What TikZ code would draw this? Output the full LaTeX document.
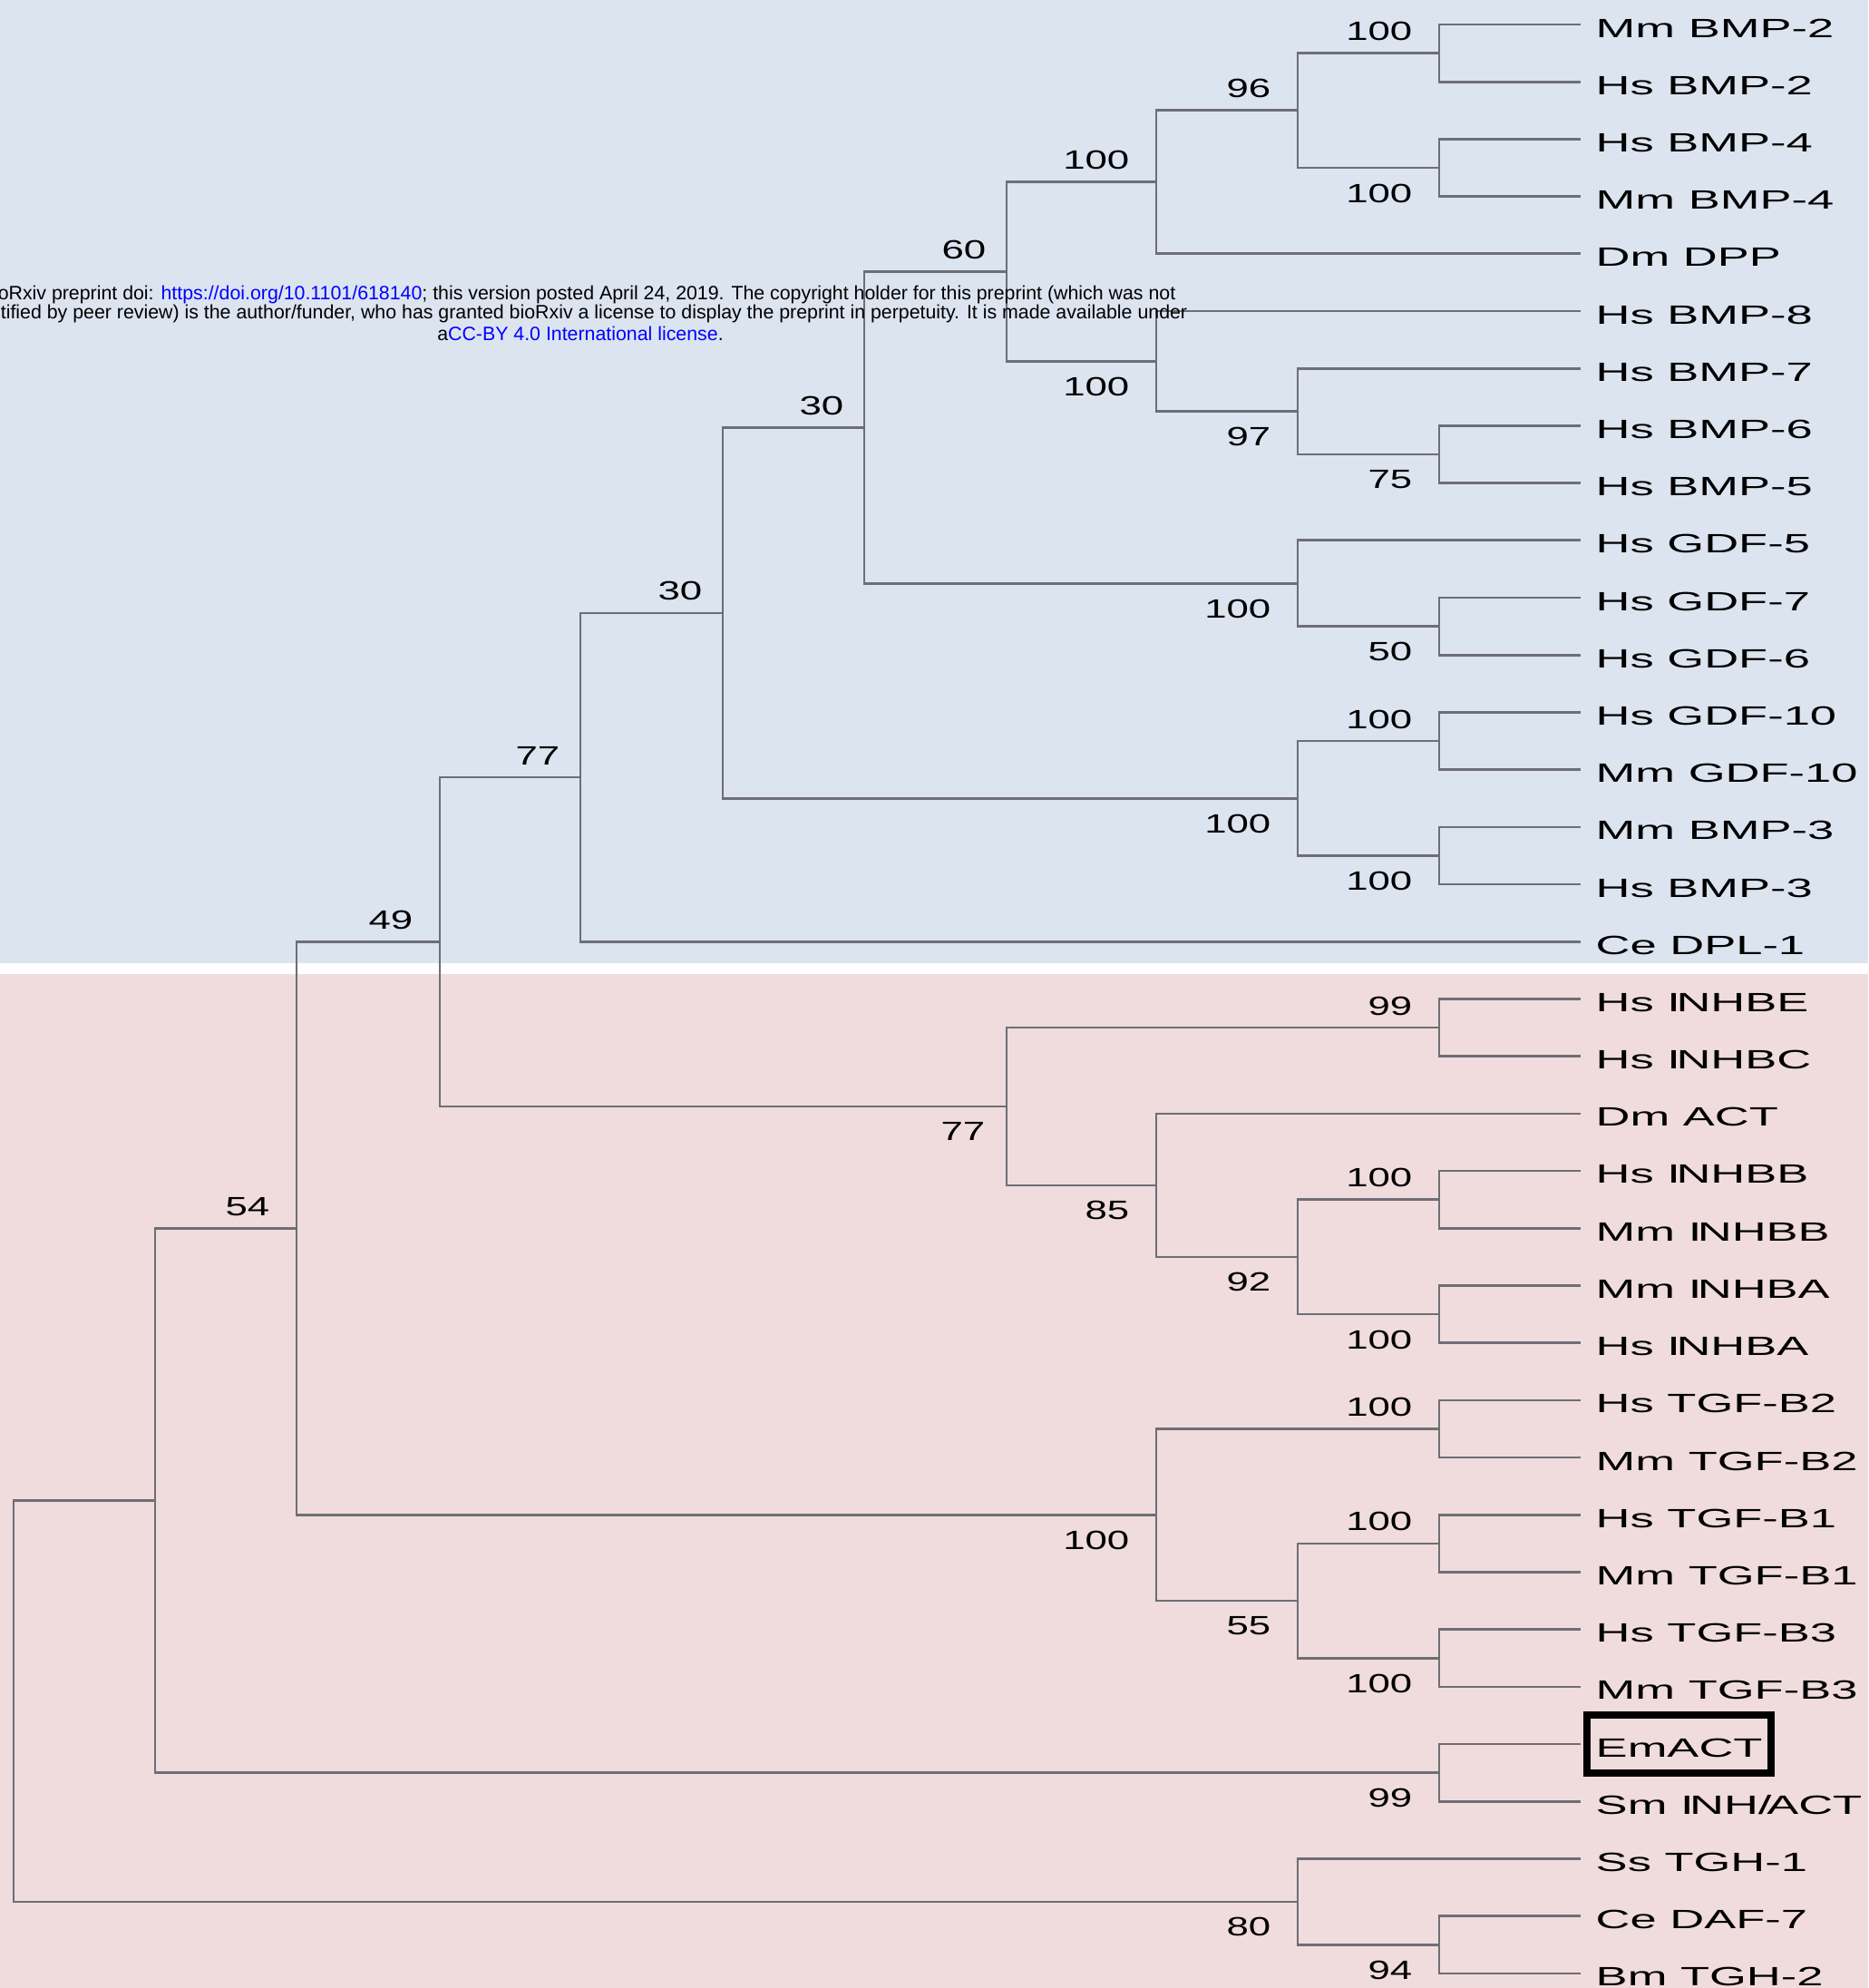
\documentclass[tikz,border=0pt]{standalone}
\usepackage{fontspec}
\setmainfont{Liberation Sans}
\newfontfamily\leaffont[FakeStretch=1.8]{Liberation Sans}
\newfontfamily\bootfont[FakeStretch=1.5]{Liberation Sans}
\usepackage{tikz}
\usetikzlibrary{positioning,fit}
\definecolor{TreeBlue} {HTML}{DCE4F0}
\definecolor{TreePink} {HTML}{F0DCDC}
\definecolor{TreeLine} {HTML}{6E6E76}
\definecolor{LinkBlue} {HTML}{0000FF}

\begin{document}
\begin{tikzpicture}[x=1cm,y=-0.632cm,
    branch/.style={draw=TreeLine,line width=0.75pt},
    leaf/.style={font=\leaffont\fontsize{8.3}{10}\selectfont,inner sep=0pt,yshift=-0.4mm},
    boot/.style={font=\bootfont\fontsize{8.3}{10}\selectfont,inner sep=0pt},
    hdr/.style={font=\fontsize{6.07}{7}\selectfont,inner sep=0pt}]
    % bands
    \fill[TreeBlue] (0,0.5728) rectangle (20.6,17.377);
    \fill[white]    (0,17.377) rectangle (20.6,17.566);
    \fill[TreePink] (0,17.566) rectangle (20.6,35.256);
    \useasboundingbox (0,0.5728) rectangle (20.6,35.256);

    % leaves
    \coordinate (t1) at (17.43,1);   \node[leaf,right=1.6mm of t1] (l1) {Mm BMP-2};
    \coordinate (t2) at (17.43,2);   \node[leaf,right=1.6mm of t2] (l2) {Hs BMP-2};
    \coordinate (t3) at (17.43,3);   \node[leaf,right=1.6mm of t3] (l3) {Hs BMP-4};
    \coordinate (t4) at (17.43,4);   \node[leaf,right=1.6mm of t4] (l4) {Mm BMP-4};
    \coordinate (t5) at (17.43,5);   \node[leaf,right=1.6mm of t5] (l5) {Dm DPP};
    \coordinate (t6) at (17.43,6);   \node[leaf,right=1.6mm of t6] (l6) {Hs BMP-8};
    \coordinate (t7) at (17.43,7);   \node[leaf,right=1.6mm of t7] (l7) {Hs BMP-7};
    \coordinate (t8) at (17.43,8);   \node[leaf,right=1.6mm of t8] (l8) {Hs BMP-6};
    \coordinate (t9) at (17.43,9);   \node[leaf,right=1.6mm of t9] (l9) {Hs BMP-5};
    \coordinate (t10) at (17.43,10); \node[leaf,right=1.6mm of t10] (l10) {Hs GDF-5};
    \coordinate (t11) at (17.43,11); \node[leaf,right=1.6mm of t11] (l11) {Hs GDF-7};
    \coordinate (t12) at (17.43,12); \node[leaf,right=1.6mm of t12] (l12) {Hs GDF-6};
    \coordinate (t13) at (17.43,13); \node[leaf,right=1.6mm of t13] (l13) {Hs GDF-10};
    \coordinate (t14) at (17.43,14); \node[leaf,right=1.6mm of t14] (l14) {Mm GDF-10};
    \coordinate (t15) at (17.43,15); \node[leaf,right=1.6mm of t15] (l15) {Mm BMP-3};
    \coordinate (t16) at (17.43,16); \node[leaf,right=1.6mm of t16] (l16) {Hs BMP-3};
    \coordinate (t17) at (17.43,17); \node[leaf,right=1.6mm of t17] (l17) {Ce DPL-1};
    \coordinate (t18) at (17.43,18); \node[leaf,right=1.6mm of t18] (l18) {Hs I\kern-1.3pt NHBE};
    \coordinate (t19) at (17.43,19); \node[leaf,right=1.6mm of t19] (l19) {Hs I\kern-1.3pt NHBC};
    \coordinate (t20) at (17.43,20); \node[leaf,right=1.6mm of t20] (l20) {Dm ACT};
    \coordinate (t21) at (17.43,21); \node[leaf,right=1.6mm of t21] (l21) {Hs I\kern-1.3pt NHBB};
    \coordinate (t22) at (17.43,22); \node[leaf,right=1.6mm of t22] (l22) {Mm I\kern-1.3pt NHBB};
    \coordinate (t23) at (17.43,23); \node[leaf,right=1.6mm of t23] (l23) {Mm I\kern-1.3pt NHBA};
    \coordinate (t24) at (17.43,24); \node[leaf,right=1.6mm of t24] (l24) {Hs I\kern-1.3pt NHBA};
    \coordinate (t25) at (17.43,25); \node[leaf,right=1.6mm of t25] (l25) {Hs TGF-B2};
    \coordinate (t26) at (17.43,26); \node[leaf,right=1.6mm of t26] (l26) {Mm TGF-B2};
    \coordinate (t27) at (17.43,27); \node[leaf,right=1.6mm of t27] (l27) {Hs TGF-B1};
    \coordinate (t28) at (17.43,28); \node[leaf,right=1.6mm of t28] (l28) {Mm TGF-B1};
    \coordinate (t29) at (17.43,29); \node[leaf,right=1.6mm of t29] (l29) {Hs TGF-B3};
    \coordinate (t30) at (17.43,30); \node[leaf,right=1.6mm of t30] (l30) {Mm TGF-B3};
    \coordinate (t31) at (17.43,31); \node[leaf,right=1.6mm of t31] (l31) {EmACT};
    \coordinate (t32) at (17.43,32); \node[leaf,right=1.6mm of t32] (l32) {Sm I\kern-1.3pt NH/\kern-1.5pt ACT};
    \coordinate (t33) at (17.43,33); \node[leaf,right=1.6mm of t33] (l33) {Ss TGH-1};
    \coordinate (t34) at (17.43,34); \node[leaf,right=1.6mm of t34] (l34) {Ce DAF-7};
    \coordinate (t35) at (17.43,35); \node[leaf,right=1.6mm of t35] (l35) {Bm TGH-2};
    \node[draw=black,line width=2.2pt,fit=(l31),inner xsep=0.9mm,inner ysep=2.1mm,yshift=0.4mm] (emact) {};

    % BMP / GDF part
    \coordinate (p1) at (15.87,1.5);
    \coordinate (p2) at (15.87,3.5);
    \coordinate (n96) at (14.31,2.5);
    \coordinate (n100a) at (12.75,3.75);
    \coordinate (p3) at (15.87,8.5);
    \coordinate (n97) at (14.31,7.75);
    \coordinate (n100b) at (12.75,6.875);
    \coordinate (n60) at (11.10,5.3125);
    \coordinate (p4) at (15.87,11.5);
    \coordinate (ngdf) at (14.31,10.75);
    \coordinate (n30a) at (9.53,8.031);
    \coordinate (p5) at (15.87,13.5);
    \coordinate (p6) at (15.87,15.5);
    \coordinate (nb3) at (14.31,14.5);
    \coordinate (n30b) at (7.97,11.266);
    \coordinate (n77a) at (6.40,14.133);
    % activin / TGF part
    \coordinate (p7) at (15.87,18.5);
    \coordinate (p8) at (15.87,21.5);
    \coordinate (p9) at (15.87,23.5);
    \coordinate (n92) at (14.31,22.5);
    \coordinate (n85) at (12.75,21.25);
    \coordinate (n77b) at (11.10,19.875);
    \coordinate (n49) at (4.85,17.004);
    \coordinate (p10) at (15.87,25.5);
    \coordinate (p11) at (15.87,27.5);
    \coordinate (p12) at (15.87,29.5);
    \coordinate (n55) at (14.31,28.5);
    \coordinate (ntgf) at (12.75,27);
    \coordinate (n54) at (3.27,22.002);
    \coordinate (p13) at (15.87,31.5);
    \coordinate (n1) at (1.71,26.751);
    \coordinate (p14) at (15.87,34.5);
    \coordinate (n80) at (14.31,33.75);
    \coordinate (root) at (0.15,30.25);

    \draw[branch] (t1) -| (p1) |- (t2);
    \draw[branch] (t3) -| (p2) |- (t4);
    \draw[branch] (p1) -| (n96) |- (p2);
    \draw[branch] (n96) -| (n100a) |- (t5);
    \draw[branch] (t8) -| (p3) |- (t9);
    \draw[branch] (t7) -| (n97) |- (p3);
    \draw[branch] (t6) -| (n100b) |- (n97);
    \draw[branch] (n100a) -| (n60) |- (n100b);
    \draw[branch] (t11) -| (p4) |- (t12);
    \draw[branch] (t10) -| (ngdf) |- (p4);
    \draw[branch] (n60) -| (n30a) |- (ngdf);
    \draw[branch] (t13) -| (p5) |- (t14);
    \draw[branch] (t15) -| (p6) |- (t16);
    \draw[branch] (p5) -| (nb3) |- (p6);
    \draw[branch] (n30a) -| (n30b) |- (nb3);
    \draw[branch] (n30b) -| (n77a) |- (t17);
    \draw[branch] (t18) -| (p7) |- (t19);
    \draw[branch] (t21) -| (p8) |- (t22);
    \draw[branch] (t23) -| (p9) |- (t24);
    \draw[branch] (p8) -| (n92) |- (p9);
    \draw[branch] (t20) -| (n85) |- (n92);
    \draw[branch] (p7) -| (n77b) |- (n85);
    \draw[branch] (n77a) -| (n49) |- (n77b);
    \draw[branch] (t25) -| (p10) |- (t26);
    \draw[branch] (t27) -| (p11) |- (t28);
    \draw[branch] (t29) -| (p12) |- (t30);
    \draw[branch] (p11) -| (n55) |- (p12);
    \draw[branch] (p10) -| (ntgf) |- (n55);
    \draw[branch] (n49) -| (n54) |- (ntgf);
    \draw[branch] (t31) -| (p13) |- (t32);
    \draw[branch] (n54) -| (n1) |- (p13);
    \draw[branch] (t34) -| (p14) |- (t35);
    \draw[branch] (t33) -| (n80) |- (p14);
    \draw[branch] (n1) -| (root) |- (n80);

    % bootstrap values
    \node[boot,above left=1.3mm and 2.9mm of p1] (b1) {100};
    \node[boot,below left=1.7mm and 2.9mm of p2] (b2) {100};
    \node[boot,above left=1.3mm and 2.9mm of n96] (b3) {96};
    \node[boot,above left=1.3mm and 2.9mm of n100a] (b4) {100};
    \node[boot,above left=1.3mm and 2.2mm of n60] (b5) {60};
    \node[boot,below left=1.7mm and 2.9mm of n100b] (b6) {100};
    \node[boot,below left=1.7mm and 2.9mm of n97] (b7) {97};
    \node[boot,below left=1.7mm and 2.9mm of p3] (b8) {75};
    \node[boot,above left=1.3mm and 2.2mm of n30a] (b9) {30};
    \node[boot,below left=1.7mm and 2.9mm of ngdf] (b10) {100};
    \node[boot,below left=1.7mm and 2.9mm of p4] (b11) {50};
    \node[boot,above left=1.3mm and 2.2mm of n30b] (b12) {30};
    \node[boot,above left=1.3mm and 2.9mm of p5] (b13) {100};
    \node[boot,below left=1.7mm and 2.9mm of nb3] (b14) {100};
    \node[boot,below left=1.7mm and 2.9mm of p6] (b15) {100};
    \node[boot,above left=1.3mm and 2.2mm of n77a] (b16) {77};
    \node[boot,above left=1.3mm and 2.9mm of n49] (b17) {49};
    \node[boot,above left=1.3mm and 2.9mm of p7] (b18) {99};
    \node[boot,below left=1.7mm and 2.3mm of n77b] (b19) {77};
    \node[boot,below left=1.7mm and 2.9mm of n85] (b20) {85};
    \node[boot,above left=1.3mm and 2.9mm of p8] (b21) {100};
    \node[boot,below left=1.7mm and 2.9mm of n92] (b22) {92};
    \node[boot,below left=1.7mm and 2.9mm of p9] (b23) {100};
    \node[boot,above left=1.3mm and 2.9mm of p10] (b24) {100};
    \node[boot,below left=1.7mm and 2.9mm of ntgf] (b25) {100};
    \node[boot,above left=1.3mm and 2.9mm of p11] (b26) {100};
    \node[boot,below left=1.7mm and 2.9mm of n55] (b27) {55};
    \node[boot,below left=1.7mm and 2.9mm of p12] (b28) {100};
    \node[boot,above left=1.3mm and 2.9mm of n54] (b29) {54};
    \node[boot,below left=1.7mm and 2.9mm of p13] (b30) {99};
    \node[boot,below left=1.7mm and 2.9mm of n80] (b31) {80};
    \node[boot,below left=1.7mm and 2.9mm of p14] (b32) {94};

    % preprint header
    \node[hdr,anchor=east] (hdr1) at (12.97,5.72) {oRxiv preprint doi: \textcolor{LinkBlue}{https://doi.org/10.1101/618140}; this version posted April 24, 2019. The copyright holder for this preprint (which was not};
    \node[hdr,anchor=east] (hdr2) at (13.10,6.05) {tified by peer review) is the author/funder, who has granted bioRxiv a license to display the preprint in perpetuity. It is made available under};
    \node[hdr] (hdr3) at (6.40,6.40) {a\textcolor{LinkBlue}{CC-BY 4.0 International license}.};
\end{tikzpicture}
\end{document}
